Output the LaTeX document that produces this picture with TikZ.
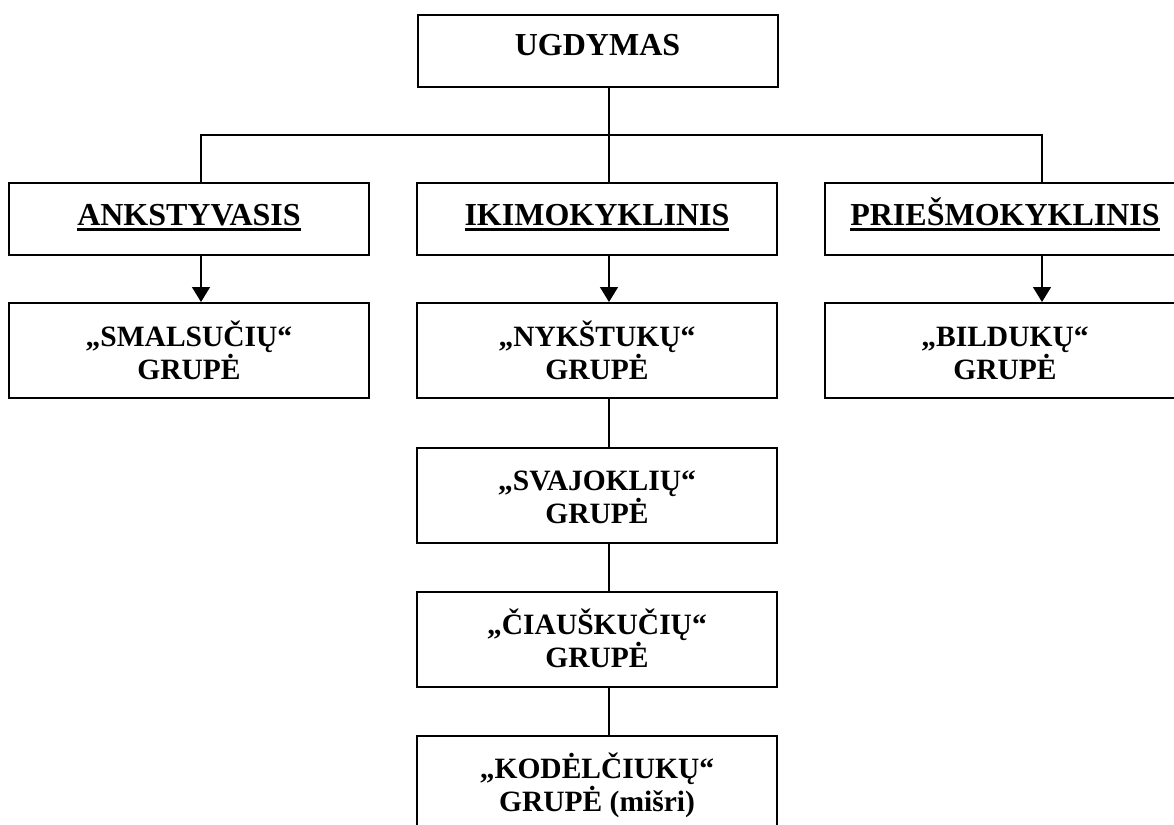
\documentclass[tikz,border=0pt]{standalone}
\usepackage{fontspec}
\setmainfont{Liberation Serif}
\usetikzlibrary{arrows.meta}
\newcommand\ulbox[1]{\setbox0\hbox{#1}\rlap{\rule[-6pt]{\wd0}{3pt}}\box0}
\newcommand\twoln[2]{\vtop{\baselineskip=33pt\lineskiplimit=-100pt\lineskip=0pt\halign{\hfil##\hfil\cr#1\cr#2\cr}}}
\begin{document}
\begin{tikzpicture}[x=1pt,y=-1pt,
  box/.style={draw,line width=2pt,minimum width=360pt,inner sep=0pt},
  rootbox/.style={box,minimum height=72pt,text height=22pt,text depth=12pt,font=\bfseries\fontsize{32}{36}\selectfont},
  head/.style={box,minimum height=72pt,text height=24pt,text depth=12pt,font=\bfseries\fontsize{32}{36}\selectfont},
  grp/.style={box,minimum height=95pt,text height=21pt,text depth=30pt,font=\bfseries\fontsize{29.5}{33}\selectfont},
  conn/.style={line width=1.5pt},
  arr/.style={conn,-{Triangle[width=18pt,length=15pt]}}]
\useasboundingbox (0,0) rectangle (1174,824);
\fill[white] (0,0) rectangle (1174,824);
\node[rootbox] (ug) at (597.5,51) {UGDYMAS};
\node[head] (ank) at (189,219) {\ulbox{ANKSTYVASIS}};
\node[head] (iki) at (597,219) {\ulbox{IKIMOKYKLINIS}};
\node[head] (pri) at (1005,219) {\ulbox{PRIEŠMOKYKLINIS}};
\node[grp] (sma) at (189,350.5) {\twoln{„SMALSUČIŲ“}{GRUPĖ}};
\node[grp] (nyk) at (597,350.5) {\twoln{„NYKŠTUKŲ“}{GRUPĖ}};
\node[grp] (bil) at (1005,350.5) {\twoln{„BILDUKŲ“}{GRUPĖ}};
\node[grp] (sva) at (597,495) {\twoln{„SVAJOKLIŲ“}{GRUPĖ}};
\node[grp] (cia) at (597,639) {\twoln{„ČIAUŠKUČIŲ“}{GRUPĖ}};
\node[grp] (kod) at (597,783) {\twoln{„KODĖLČIUKŲ“}{GRUPĖ (mišri)}};
\coordinate (bus) at (609,135);
\coordinate (busL) at (201,135);
\coordinate (busR) at (1042,135);
\draw[conn] (ug.south -| bus) -- (iki.north -| bus);
\draw[conn] (ank.north -| busL) -- (busL) -- (busR) -- (pri.north -| busR);
\draw[arr] (ank.south -| busL) -- (sma.north -| busL);
\draw[arr] (iki.south -| bus) -- (nyk.north -| bus);
\draw[arr] (pri.south -| busR) -- (bil.north -| busR);
\draw[conn] (nyk.south -| bus) -- (sva.north -| bus);
\draw[conn] (sva.south -| bus) -- (cia.north -| bus);
\draw[conn] (cia.south -| bus) -- (kod.north -| bus);
\end{tikzpicture}
\end{document}
